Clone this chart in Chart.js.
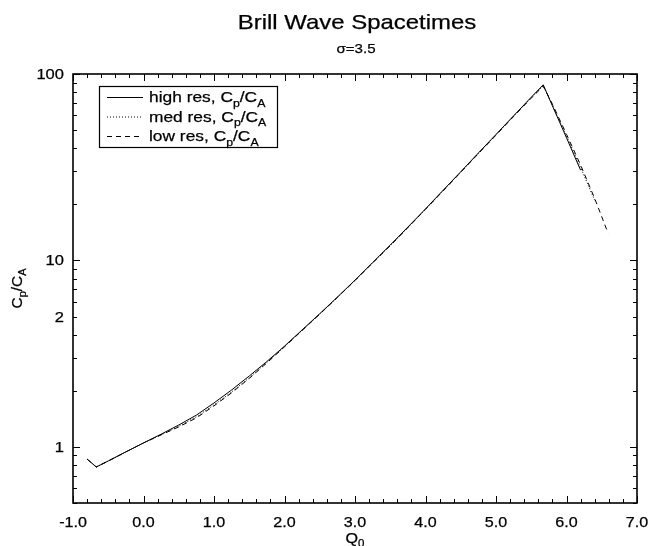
<!DOCTYPE html>
<html>
<head>
<meta charset="utf-8">
<script src="https://cdn.jsdelivr.net/npm/chart.js@4.4.1/dist/chart.umd.min.js"></script>
<style>
html,body{margin:0;padding:0;background:#fff;}
#wrap{width:649px;height:546px;position:relative;}
</style>
</head>
<body>
<div id="wrap"><canvas id="c" width="649" height="546"></canvas></div>
<script>
// ---- data ----
const qHigh = [-0.8, -0.67, -0.5, -0.25, 0, 0.25, 0.5, 0.75, 1.0, 1.25, 1.5, 1.75, 2.0, 2.25, 2.5, 2.75, 3.0, 3.25, 3.5, 3.75, 4.0, 4.25, 4.5, 4.75, 5.0, 5.25, 5.5, 5.67, 5.8, 6.0, 6.2];
const cHigh = [0.86, 0.78, 0.84, 0.94, 1.05, 1.17, 1.31, 1.48, 1.72, 2.02, 2.40, 2.87, 3.47, 4.24, 5.18, 6.36, 7.84, 9.74, 12.1, 15.1, 18.9, 23.8, 29.9, 37.7, 47.4, 59.7, 75.1, 87.5, 67.5, 45.5, 30.5];

const qMed = [-0.8, -0.67, -0.5, -0.25, 0, 0.25, 0.5, 0.75, 1.0, 1.25, 1.5, 1.75, 2.0, 2.25, 2.5, 2.75, 3.0, 3.25, 3.5, 3.75, 4.0, 4.25, 4.5, 4.75, 5.0, 5.25, 5.5, 5.67, 5.8, 6.0, 6.2, 6.4];
const cMed = [0.86, 0.78, 0.84, 0.94, 1.05, 1.16, 1.29, 1.45, 1.68, 1.97, 2.35, 2.84, 3.45, 4.22, 5.16, 6.34, 7.82, 9.72, 12.0, 15.0, 18.8, 23.7, 29.8, 37.5, 47.2, 59.4, 74.6, 86.5, 68.0, 46.5, 31.5, 21.0];

const qLow = [-0.8, -0.67, -0.5, -0.25, 0, 0.25, 0.5, 0.75, 1.0, 1.25, 1.5, 1.75, 2.0, 2.25, 2.5, 2.75, 3.0, 3.25, 3.5, 3.75, 4.0, 4.25, 4.5, 4.75, 5.0, 5.25, 5.5, 5.67, 5.8, 6.0, 6.2, 6.4, 6.59];
const cLow = [0.86, 0.78, 0.84, 0.94, 1.05, 1.16, 1.28, 1.43, 1.66, 1.95, 2.33, 2.82, 3.44, 4.21, 5.15, 6.33, 7.80, 9.70, 12.0, 15.0, 18.8, 23.6, 29.7, 37.4, 47.0, 59.2, 74.2, 86.0, 69.0, 47.5, 32.5, 21.5, 14.0];

const seriesNames = ['high res', 'med res', 'low res'];
const xTickValues = [-1, 0, 1, 2, 3, 4, 5, 6, 7];
const yTickValues = [1, 5, 10, 100];
const yTickLabels = ['1', '2', '10', '100'];
const yMinorTicks = [0.5,0.6,0.7,0.8,0.9,1,2,3,4,5,6,7,8,9,10,20,30,40,50,60,70,80,90,100];
const yMajorTicks = [1, 10, 100];
const titleText = 'Brill Wave Spacetimes';
const subtitleText = 'σ=3.5';

// ---- helpers ----
const FONT = '"Liberation Sans", Arial, Helvetica, sans-serif';
const STRETCH = 1.15;
const TEXT_STROKE = 0.25;
function toPts(xs, ys){ return xs.map((x,i)=>({x:x, y:ys[i]})); }

function paintText(ctx, t, x, y){
  ctx.fillText(t, x, y);
  ctx.lineWidth = TEXT_STROKE;
  ctx.strokeText(t, x, y);
}

function drawText(ctx, text, x, y, size, align, stretch){
  ctx.save();
  ctx.translate(x, y);
  ctx.scale(stretch || STRETCH, 1);
  ctx.font = size + 'px ' + FONT;
  ctx.textAlign = align || 'center';
  ctx.textBaseline = 'alphabetic';
  paintText(ctx, text, 0, 0);
  ctx.restore();
}

function drawSubText(ctx, parts, x, y, size, align, stretch){
  const subSize = Math.round(size*0.7);
  ctx.save();
  ctx.translate(x, y);
  ctx.scale(stretch || STRETCH, 1);
  let w = 0;
  const widths = parts.map(p=>{
    ctx.font = (p[1]?subSize:size) + 'px ' + FONT;
    const m = ctx.measureText(p[0]).width; w += m; return m;
  });
  let cx = 0;
  if (align === 'center') cx = -w/2;
  else if (align === 'right') cx = -w;
  ctx.textAlign = 'left';
  ctx.textBaseline = 'alphabetic';
  parts.forEach((p,i)=>{
    ctx.font = (p[1]?subSize:size) + 'px ' + FONT;
    paintText(ctx, p[0], cx, p[1] ? size*0.3 : 0);
    cx += widths[i];
  });
  ctx.restore();
}

const decorPlugin = {
  id: 'decor',
  afterDraw(chart){
    const ctx = chart.ctx;
    const a = chart.chartArea;
    const xs = chart.scales.x, ys = chart.scales.y;
    ctx.save();
    ctx.fillStyle = '#000';
    ctx.strokeStyle = '#000';

    // frame
    ctx.lineWidth = 1.6;
    ctx.strokeRect(a.left, a.top, a.right - a.left, a.bottom - a.top);

    // x ticks (inward, bottom & top)
    ctx.lineWidth = 1;
    for (let i = 0; i <= 40; i++){
      const v = xs.min + i*0.2;
      const px = Math.round(xs.getPixelForValue(v)) + 0.5;
      const len = (i % 5 === 0) ? 7 : 4;
      ctx.beginPath();
      ctx.moveTo(px, a.bottom); ctx.lineTo(px, a.bottom - len);
      ctx.moveTo(px, a.top); ctx.lineTo(px, a.top + len);
      ctx.stroke();
    }
    // y ticks (inward, left & right)
    yMinorTicks.forEach(v=>{
      const py = Math.round(ys.getPixelForValue(v)) + 0.5;
      const len = yMajorTicks.includes(v) ? 7 : 4;
      ctx.beginPath();
      ctx.moveTo(a.left, py); ctx.lineTo(a.left + len, py);
      ctx.moveTo(a.right, py); ctx.lineTo(a.right - len, py);
      ctx.stroke();
    });

    // tick labels
    xTickValues.forEach(v=>{
      drawText(ctx, v.toFixed(1), xs.getPixelForValue(v), 527, 14, 'center', 1.15);
    });
    yTickValues.forEach((v,i)=>{
      drawText(ctx, yTickLabels[i], a.left - 9, ys.getPixelForValue(v) + 5, 14, 'right', 1.18);
    });

    // titles
    drawText(ctx, titleText, 357, 29, 21, 'center', 1.14);
    drawText(ctx, subtitleText, 356, 53, 13.5, 'center', 1.12);

    // axis titles
    drawSubText(ctx, [['Q',false],['0',true]], (a.left + a.right)/2, 543, 14, 'center');
    ctx.save();
    ctx.translate(22, (a.top + a.bottom)/2);
    ctx.rotate(-Math.PI/2);
    drawSubText(ctx, [['C',false],['p',true],['/C',false],['A',true]], 0, 0, 14, 'center', 1.1);
    ctx.restore();

    // legend
    const lx = 99, ly = 86, lw = 178, lh = 61;
    ctx.lineWidth = 1.2;
    ctx.strokeRect(lx + 0.5, ly + 0.5, lw, lh);
    const rowY = [97, 116.5, 136];
    chart.data.datasets.forEach((ds, i)=>{
      ctx.beginPath();
      ctx.setLineDash(ds.borderDash || []);
      ctx.lineWidth = 1;
      ctx.moveTo(107, rowY[i] + 0.5); ctx.lineTo(143, rowY[i] + 0.5);
      ctx.stroke();
      ctx.setLineDash([]);
      drawSubText(ctx, [[seriesNames[i] + ', C', false], ['p', true], ['/C', false], ['A', true]], 149, rowY[i] + 5, 15.5, 'left', 1.12);
    });

    ctx.restore();
  }
};

new Chart(document.getElementById('c'), {
  type: 'line',
  data: {
    datasets: [
      { label: seriesNames[0], data: toPts(qHigh, cHigh), borderColor: '#000', borderWidth: 1, pointRadius: 0, borderDash: [], tension: 0 },
      { label: seriesNames[1], data: toPts(qMed, cMed), borderColor: '#000', borderWidth: 1, pointRadius: 0, borderDash: [1, 2], tension: 0 },
      { label: seriesNames[2], data: toPts(qLow, cLow), borderColor: '#000', borderWidth: 1, pointRadius: 0, borderDash: [5, 4], tension: 0 }
    ]
  },
  options: {
    responsive: false,
    animation: false,
    layout: { padding: { left: 0, right: 12, top: 74, bottom: 0 } },
    plugins: { legend: { display: false }, tooltip: { enabled: false }, title: { display: false } },
    scales: {
      x: {
        type: 'linear', min: -1, max: 7,
        grid: { display: false, drawTicks: false },
        border: { display: false },
        ticks: { display: false },
        afterFit: s => { s.height = 43; }
      },
      y: {
        type: 'logarithmic', min: 0.5, max: 100,
        grid: { display: false, drawTicks: false },
        border: { display: false },
        ticks: { display: false },
        afterFit: s => { s.width = 73; }
      }
    }
  },
  plugins: [decorPlugin]
});
</script>
</body>
</html>
